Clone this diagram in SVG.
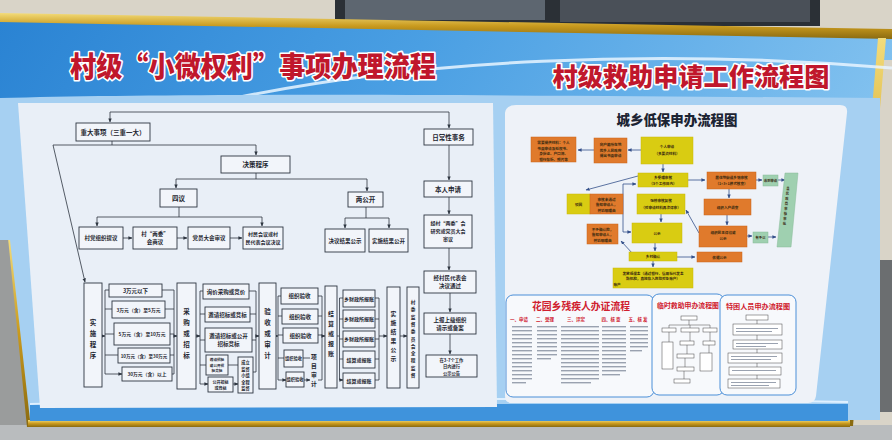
<svg xmlns="http://www.w3.org/2000/svg" width="892" height="440" viewBox="0 0 892 440">
<defs>
<linearGradient id="sky" x1="0" y1="0" x2="1" y2="0.3">
<stop offset="0" stop-color="#2a83d3"/><stop offset="0.45" stop-color="#4a9fe3"/><stop offset="1" stop-color="#86c4f0"/>
</linearGradient>
<linearGradient id="gold" x1="0" y1="0" x2="0" y2="1">
<stop offset="0" stop-color="#f3dc7a"/><stop offset="0.5" stop-color="#c99a1e"/><stop offset="1" stop-color="#8a6a10"/>
</linearGradient>
<marker id="a" markerWidth="4" markerHeight="4" refX="3.6" refY="2" orient="auto" markerUnits="userSpaceOnUse"><path d="M0,0.3 L4,2 L0,3.7z" fill="#2d3540"/></marker>
<marker id="b" markerWidth="4" markerHeight="4" refX="3.6" refY="2" orient="auto" markerUnits="userSpaceOnUse"><path d="M0,0.3 L4,2 L0,3.7z" fill="#34508a"/></marker>
<style>
.bx{fill:#f2f5fa;stroke:#2d3540;stroke-width:0.9}
.t{font-family:"Noto Sans CJK SC","Noto Sans",sans-serif;font-size:5.5px;font-weight:bold;fill:#1e2630;text-anchor:middle}
.tl{font-family:"Noto Sans CJK SC","Noto Sans",sans-serif;font-size:6.5px;font-weight:bold;fill:#1e2630;text-anchor:middle}
.tv{font-family:"Noto Sans CJK SC","Noto Sans",sans-serif;font-size:6.5px;font-weight:bold;fill:#1e2630;text-anchor:middle}
.c{stroke:#2d3540;stroke-width:0.8;fill:none}
.ca{stroke:#2d3540;stroke-width:0.8;fill:none;marker-end:url(#a)}
.cb{stroke:#34508a;stroke-width:0.8;fill:none;marker-end:url(#b)}
.ttl{font-family:"Noto Sans CJK SC","Noto Sans",sans-serif;font-weight:900;fill:#c0172c;stroke:#ffffff;stroke-width:3.2;paint-order:stroke;stroke-linejoin:round;text-anchor:middle}
.y{fill:#d9cc12;stroke:#c9b80a;stroke-width:0.5}
.o{fill:#e07a2c;stroke:#c96518;stroke-width:0.5}
.g{fill:#9fd0b0;stroke:#88bb98;stroke-width:0.5}
.ts{font-family:"Noto Sans CJK SC","Noto Sans",sans-serif;font-size:3.6px;font-weight:bold;fill:#3a2a10;text-anchor:middle}
.rt{font-family:"Noto Sans CJK SC","Noto Sans",sans-serif;font-weight:bold;fill:#d0202e;text-anchor:middle}
.pn{fill:#f7f9fc;stroke:#4a8fd8;stroke-width:1}
.ln{fill:#9aa2b0}
</style>
</defs>

<!-- surroundings -->
<rect x="0" y="0" width="892" height="440" fill="#d9d4c8"/>
<rect x="335" y="0" width="485" height="26" fill="#2b3036"/>
<rect x="345" y="0" width="200" height="20" fill="#5d6670"/>
<rect x="560" y="0" width="250" height="22" fill="#4a5058"/>
<polygon points="880,260 892,260 892,412 868,412" fill="#6b6e70"/>
<polygon points="0,240 14,240 30,425 0,425" fill="#9a9c9c"/>
<rect x="0" y="425" width="892" height="15" fill="#b9bcbe"/>

<!-- board -->
<polygon points="0,21 892,38 892,60 880,60 848,425 30,425 12,240 0,240" fill="url(#sky)"/>
<polygon points="0,13 892,29 892,39 0,22" fill="url(#gold)"/>
<polygon points="878,38 886,38 853,426 845,426" fill="url(#gold)"/>
<polygon points="8,238 14,238 33,427 27,427" fill="url(#gold)"/>
<rect x="28" y="420" width="822" height="7" fill="url(#gold)"/>
<path d="M235,98 C420,60 650,48 892,68" stroke="#e8f4ff" stroke-width="3" fill="none" opacity="0.85"/>
<path d="M0,98 C200,92 600,96 880,98 L880,420 L30,420 L10,240 L0,240z" fill="#a6d0f2"/>
<rect x="30" y="404" width="818" height="17" fill="#3f93dc"/>
<path d="M30,404 C300,398 600,398 848,402" stroke="#dff0ff" stroke-width="2" fill="none"/>

<!-- titles -->
<text class="ttl" x="253" y="77" font-size="28" textLength="366" lengthAdjust="spacingAndGlyphs">村级“小微权利”事项办理流程</text>
<text class="ttl" x="691" y="86" font-size="25" textLength="277" lengthAdjust="spacingAndGlyphs">村级救助申请工作流程图</text>

<!-- left panel -->
<polygon points="18,103 493,103 497,407 40,408" fill="#e9eff7"/>

<g id="connectors">
<path class="c" d="M110,112 H449"/>
<path class="ca" d="M110,112 V122"/>
<path class="ca" d="M449,112 V128"/>
<path class="c" d="M112,141 V145 M53,145 H256"/>
<path class="ca" d="M256,145 V155"/>
<path class="ca" d="M53,145 L85,282"/>
<path class="c" d="M256,173 V179 M176,179 H367"/>
<path class="ca" d="M176,179 V188"/>
<path class="ca" d="M367,179 V191"/>
<path class="c" d="M179,207 V217 M97,217 H262"/>
<path class="ca" d="M97,217 V226"/>
<path class="ca" d="M262,217 V226"/>
<path class="ca" d="M123,238 H132"/>
<path class="ca" d="M177,238 H187"/>
<path class="ca" d="M230,238 H242"/>
<path class="c" d="M366,207 V218 M345,218 H389"/>
<path class="ca" d="M345,218 V228"/>
<path class="ca" d="M389,218 V228"/>
<path class="ca" d="M449,145 V180"/>
<path class="ca" d="M449,197 V214"/>
<path class="ca" d="M449,248 V270"/>
<path class="ca" d="M450,293 V312"/>
<path class="ca" d="M450,334 V354"/>
<!-- bottom row brackets -->
<path class="ca" d="M102,336 H105"/>
<path class="c" d="M105,290 V374"/>
<path class="ca" d="M105,290 H109 M105,309 H112 M105,334 H114 M105,355 H118 M105,374 H122"/>
<path class="c" d="M162,290 H174 M165,309 H174 M170,334 H174 M170,355 H174 M172,374 H174 M174,290 V374"/>
<path class="ca" d="M174,336 H177"/>
<path class="ca" d="M196,336 H200"/>
<path class="c" d="M200,291 V384"/>
<path class="ca" d="M200,291 H203 M200,314 H205 M200,340 H205 M200,365 H206 M200,384 H208"/>
<path class="ca" d="M228,365 H238 M233,384 H238"/>
<path class="c" d="M249,291 H256 M250,314 H256 M252,340 H256 M253,372 H256 M256,291 V372"/>
<path class="ca" d="M256,336 H259"/>
<path class="ca" d="M276,336 H278"/>
<path class="c" d="M278,296 V380"/>
<path class="ca" d="M278,296 H281 M278,316 H282 M278,335 H283 M278,358 H284 M278,380 H286"/>
<path class="ca" d="M303,358 H310 M304,380 H310"/>
<path class="c" d="M318,296 H322 M318,316 H322 M318,335 H322 M322,296 V380 M318,380 H322"/>
<path class="ca" d="M322,336 H325"/>
<path class="c" d="M337,336 H339.5 M339.5,298 V380"/>
<path class="ca" d="M339.5,298 H343 M339.5,319 H343 M339.5,339 H343 M339.5,359 H343 M339.5,380 H343"/>
<path class="c" d="M375,298 H379 M375,319 H379 M375,339 H379 M375,359 H379 M375,380 H379 M379,298 V380"/>
<path class="ca" d="M379,336 H387"/>
<path class="ca" d="M400,336 H407"/>
</g>

<g id="n-zhongda"><rect class="bx" x="76" y="123" width="74" height="18"/><text class="tl" x="113" y="134.5">重大事项（三重一大）</text></g>
<g id="n-richang"><rect class="bx" x="424" y="129" width="49" height="16"/><text class="tl" x="448.5" y="139.5">日常性事务</text></g>
<g id="n-juece"><rect class="bx" x="221" y="156" width="69" height="17"/><text class="tl" x="255.5" y="167">决策程序</text></g>
<g id="n-siyi"><rect class="bx" x="160" y="189" width="37" height="18"/><text class="tl" x="178.5" y="200.5">四议</text></g>
<g id="n-lianggongkai"><rect class="bx" x="348" y="192" width="35" height="15"/><text class="tl" x="365.5" y="202">两公开</text></g>
<g id="n-tiyi"><rect class="bx" x="79" y="227" width="44" height="22"/><text class="t" x="101" y="240">村党组织提议</text></g>
<g id="n-shangyi"><rect class="bx" x="133" y="227" width="44" height="22"/><text class="t" x="155" y="236">村“两委”</text><text class="t" x="155" y="244">会商议</text></g>
<g id="n-shenyi"><rect class="bx" x="188" y="227" width="42" height="22"/><text class="t" x="209" y="240">党员大会审议</text></g>
<g id="n-jueyi"><rect class="bx" x="243" y="227" width="40" height="22"/><text class="t" x="263" y="236" style="font-size:5px">村民会议或村</text><text class="t" x="263" y="244" style="font-size:5px">民代表会议决议</text></g>
<g id="n-jieguo"><rect class="bx" x="325" y="229" width="40" height="23"/><text class="t" x="345" y="242.5">决议结果公示</text></g>
<g id="n-shishi"><rect class="bx" x="369" y="229" width="39" height="23"/><text class="t" x="388.5" y="242.5">实施结果公开</text></g>
<g id="n-benren"><rect class="bx" x="424" y="181" width="48" height="16"/><text class="tl" x="448" y="191.5">本人申请</text></g>
<g id="n-liangwei"><rect class="bx" x="424" y="215" width="48" height="33"/><text class="t" x="448" y="225" style="font-size:5px">经村“两委”会</text><text class="t" x="448" y="233" style="font-size:5px">研究或党员大会</text><text class="t" x="448" y="241" style="font-size:5px">审议</text></g>
<g id="n-cmdb"><rect class="bx" x="424" y="271" width="52" height="22"/><text class="t" x="450" y="280">经村民代表会</text><text class="t" x="450" y="288">决议通过</text></g>
<g id="n-shangbao"><rect class="bx" x="424" y="313" width="52" height="21"/><text class="t" x="450" y="322">上报上级组织</text><text class="t" x="450" y="330">请示或备案</text></g>
<g id="n-gongshi"><rect class="bx" x="426" y="355" width="51" height="22"/><text class="t" x="451.5" y="361.5" style="font-size:4.3px">在3-7个工作</text><text class="t" x="451.5" y="368" style="font-size:4.3px">日内进行</text><text class="t" x="451.5" y="374.5" style="font-size:4.3px">公示公告</text></g>

<g id="n-shishichengxu"><rect class="bx" x="84" y="283" width="18" height="104"/><text class="tv"><tspan x="93" y="325">实</tspan><tspan x="93" y="336">施</tspan><tspan x="93" y="347">程</tspan><tspan x="93" y="358">序</tspan></text></g>
<g id="n-amt1"><rect class="bx" x="109" y="284" width="53" height="13"/><text class="t" x="135.5" y="292.5">3万元以下</text></g>
<g id="n-amt2"><rect class="bx" x="112" y="301" width="53" height="17"/><text class="t" x="138.5" y="311.5" style="font-size:4.8px">3万元（含）至5万元</text></g>
<g id="n-amt3"><rect class="bx" x="114" y="323" width="56" height="22"/><text class="t" x="142" y="336" style="font-size:4.8px">5万元（含）至10万元</text></g>
<g id="n-amt4"><rect class="bx" x="118" y="348" width="52" height="15"/><text class="t" x="144" y="357.5" style="font-size:4.5px">10万元（含）至30万元</text></g>
<g id="n-amt5"><rect class="bx" x="122" y="367" width="50" height="14"/><text class="t" x="147" y="376" style="font-size:4.8px">30万元（含）以上</text></g>

<g id="n-caigou"><rect class="bx" x="177" y="283" width="19" height="106"/><text class="tv"><tspan x="186.5" y="314">采</tspan><tspan x="186.5" y="325">购</tspan><tspan x="186.5" y="336">或</tspan><tspan x="186.5" y="347">招</tspan><tspan x="186.5" y="358">标</tspan></text></g>
<g id="n-p1"><rect class="bx" x="203" y="284" width="46" height="15"/><text class="t" x="226" y="293.5">询价采购或竞价</text></g>
<g id="n-p2"><rect class="bx" x="205" y="307" width="45" height="15"/><text class="t" x="227.5" y="316.5">邀请招标或竞标</text></g>
<g id="n-p3"><rect class="bx" x="205" y="328" width="47" height="24"/><text class="t" x="228.5" y="338">邀请招标或公开</text><text class="t" x="228.5" y="346">招标竞标</text></g>
<g id="n-p4"><rect class="bx" x="206" y="355" width="22" height="20"/><text class="t" style="font-size:3.6px" x="217" y="361">邀请招标</text><text class="t" style="font-size:3.6px" x="217" y="366.5">或公开招</text><text class="t" style="font-size:3.6px" x="217" y="372">标竞标</text></g>
<g id="n-p5"><rect class="bx" x="208" y="377" width="25" height="15"/><text class="t" style="font-size:4px" x="220.5" y="383.5">公开招标</text><text class="t" style="font-size:4px" x="220.5" y="389.5">或竞标</text></g>
<g id="n-p6"><rect class="bx" x="238" y="357" width="15" height="36"/><text class="t" style="font-size:4.2px" x="245.5" y="364">成立</text><text class="t" style="font-size:4.2px" x="245.5" y="370.5">监督</text><text class="t" style="font-size:4.2px" x="245.5" y="377">小组</text><text class="t" style="font-size:4.2px" x="245.5" y="383.5">全程</text><text class="t" style="font-size:4.2px" x="245.5" y="390">监督</text></g>

<g id="n-yanshou"><rect class="bx" x="259" y="283" width="17" height="106"/><text class="tv"><tspan x="267.5" y="314">验</tspan><tspan x="267.5" y="325">收</tspan><tspan x="267.5" y="336">或</tspan><tspan x="267.5" y="347">审</tspan><tspan x="267.5" y="358">计</tspan></text></g>
<g id="n-a1"><rect class="bx" x="281" y="288" width="37" height="16"/><text class="t" x="299.5" y="298">组织验收</text></g>
<g id="n-a2"><rect class="bx" x="282" y="309" width="36" height="15"/><text class="t" x="300" y="318.5">组织验收</text></g>
<g id="n-a3"><rect class="bx" x="283" y="328" width="35" height="15"/><text class="t" x="300.5" y="337.5">组织验收</text></g>
<g id="n-a4"><rect class="bx" x="284" y="350" width="19" height="17"/><text class="t" x="293.5" y="360" style="font-size:4.2px">组织验收</text></g>
<g id="n-a5"><rect class="bx" x="286" y="372" width="18" height="15"/><text class="t" x="295" y="381" style="font-size:4.2px">组织验收</text></g>
<g id="n-xiangmu"><text class="tv" style="font-size:5.8px"><tspan x="314" y="359">项</tspan><tspan x="314" y="368">目</tspan><tspan x="314" y="377">审</tspan><tspan x="314" y="386">计</tspan></text></g>

<g id="n-jiesuan"><rect class="bx" x="325" y="286" width="12" height="102"/><text class="tv" style="font-size:6px"><tspan x="331" y="316">结</tspan><tspan x="331" y="326">算</tspan><tspan x="331" y="336">或</tspan><tspan x="331" y="346">报</tspan><tspan x="331" y="356">账</tspan></text></g>
<g id="n-r1"><rect class="bx" x="343" y="290" width="32" height="17"/><text class="t" x="359" y="300.5" style="font-size:5px">乡财政所报账</text></g>
<g id="n-r2"><rect class="bx" x="343" y="310" width="32" height="18"/><text class="t" x="359" y="321" style="font-size:5px">乡财政所报账</text></g>
<g id="n-r3"><rect class="bx" x="343" y="331" width="32" height="16"/><text class="t" x="359" y="341" style="font-size:5px">乡财政所报账</text></g>
<g id="n-r4"><rect class="bx" x="343" y="351" width="32" height="17"/><text class="t" x="359" y="361.5" style="font-size:5px">结算或报账</text></g>
<g id="n-r5"><rect class="bx" x="343" y="373" width="32" height="15"/><text class="t" x="359" y="382.5" style="font-size:5px">结算或报账</text></g>

<g id="n-ssjg"><rect class="bx" x="387" y="287" width="13" height="101"/><text class="tv" style="font-size:5.8px"><tspan x="393.5" y="316">实</tspan><tspan x="393.5" y="325">施</tspan><tspan x="393.5" y="334">结</tspan><tspan x="393.5" y="343">果</tspan><tspan x="393.5" y="352">公</tspan><tspan x="393.5" y="361">示</tspan></text></g>
<g id="n-jiandu"><rect class="bx" x="407" y="287" width="12" height="101"/><text class="tv" style="font-size:4.7px"><tspan x="413" y="304">村</tspan><tspan x="413" y="311.3">委</tspan><tspan x="413" y="318.6">监</tspan><tspan x="413" y="325.9">督</tspan><tspan x="413" y="333.2">委</tspan><tspan x="413" y="340.5">员</tspan><tspan x="413" y="347.8">会</tspan><tspan x="413" y="355.1">全</tspan><tspan x="413" y="362.4">程</tspan><tspan x="413" y="369.7">监</tspan><tspan x="413" y="377">督</tspan></text></g>

<!-- right panel -->
<path d="M516,105 H840 Q848,105 847,113 L816,396 Q815,403 808,403 H512 Q505,403 505,396 V113 Q506,105 516,105z" fill="#eef2f8"/>
<text x="677" y="125" font-family="'Noto Sans CJK SC',sans-serif" font-size="13.5" font-weight="900" fill="#1c2433" text-anchor="middle" textLength="121" lengthAdjust="spacingAndGlyphs">城乡低保申办流程图</text>

<g id="lowbao-connectors">
<path class="cb" d="M641,150 H628"/>
<path class="cb" d="M594,150 H578"/>
<path class="cb" d="M663,164 V172"/>
<path class="cb" d="M638,176 L586,190"/>
<path class="cb" d="M688,180 H705"/>
<path class="cb" d="M756,180 H762"/>
<path class="cb" d="M778,180 H785"/>
<path class="cb" d="M729,189 V198"/>
<path class="cb" d="M727,215 V225"/>
<path class="cb" d="M699,233 L686,210"/>
<path class="cb" d="M747,236 H752"/>
<path class="cb" d="M768,237 H776"/>
<path class="cb" d="M661,214 V222"/>
<path class="cb" d="M655,243 V251"/>
<path class="cb" d="M677,257 H695"/>
<path class="cb" d="M633,254 L621,241"/>
<path class="cb" d="M653,261 V267"/>
<path class="cb" d="M623,232 V184 H636"/>
<path class="cb" d="M623,232 H631"/>
</g>
<g id="l-geren"><rect class="y" x="641" y="137" width="52" height="27"/><text class="ts" x="667" y="148">个人申请</text><text class="ts" x="667" y="155">（多要资材料）</text></g>
<g id="l-huji"><rect class="o" x="594" y="138" width="33" height="25"/><text class="ts" x="610.5" y="146">向户籍所在地</text><text class="ts" x="610.5" y="151.5">的乡人民政府</text><text class="ts" x="610.5" y="157">提出书面申请</text></g>
<g id="l-cailiao"><rect class="o" x="531" y="137" width="45" height="25"/><text class="ts" x="553.5" y="144">需要提供材料：个人</text><text class="ts" x="553.5" y="149.5">书面申请及授权书、</text><text class="ts" x="553.5" y="155">身份证、户口簿、</text><text class="ts" x="553.5" y="160.5">银行存折、照片等</text></g>
<g id="l-shouli"><rect class="y" x="638" y="173" width="50" height="14"/><text class="ts" x="663" y="179">乡受理审核</text><text class="ts" x="663" y="185">（5个工作日内）</text></g>
<g id="l-bohui"><rect class="y" x="567" y="194" width="23" height="20"/><text class="ts" x="578.5" y="205.5">驳回</text></g>
<g id="l-weitongguo"><rect class="o" x="590" y="194" width="33" height="20"/><text class="ts" x="606.5" y="200.5">审核未通过</text><text class="ts" x="606.5" y="206">告知申请人，</text><text class="ts" x="606.5" y="211.5">并说明理由</text></g>
<g id="l-zhangbang"><rect class="y" x="637" y="194" width="48" height="20"/><text class="ts" x="661" y="202">张榜审核复核</text><text class="ts" x="661" y="209">（对申请材料再次评审）</text></g>
<g id="l-gongshi"><rect class="y" x="632" y="223" width="50" height="20"/><text class="ts" x="657" y="234.5">公示</text></g>
<g id="l-buyu"><rect class="o" x="587" y="224" width="31" height="20"/><text class="ts" x="602.5" y="230.5">不予确认的，</text><text class="ts" x="602.5" y="236">告知申请人，</text><text class="ts" x="602.5" y="241.5">并说明理由</text></g>
<g id="l-queren"><rect class="y" x="629" y="252" width="48" height="9"/><text class="ts" x="653" y="258">乡村确认</text></g>
<g id="l-yiju"><rect class="o" x="697" y="252" width="45" height="10"/><text class="ts" x="719.5" y="258.5">依据公示</text></g>
<g id="l-fafang"><rect class="y" x="613" y="268" width="80" height="20"/><text class="ts" x="653" y="274.5">发放低保金（通过银行、信用社代发金</text><text class="ts" x="653" y="280">融机构，直接存入救助对象账户）</text><text class="ts" x="617" y="285.5" text-anchor="start">账户</text></g>
<g id="l-juzhu"><rect class="o" x="707" y="172" width="49" height="17"/><text class="ts" x="731.5" y="179">居住地街道乡镇审核</text><text class="ts" x="731.5" y="185">（1+3+1模式核查）</text></g>
<g id="l-shoudao"><rect class="g" x="763" y="175" width="15" height="11"/><text class="ts" x="770.5" y="182" style="font-size:3.3px">收到申请</text></g>
<g id="l-ruhu"><rect class="o" x="704" y="199" width="47" height="16"/><text class="ts" x="727.5" y="208.5">组织入户调查</text></g>
<g id="l-minzhu"><rect class="o" x="699" y="226" width="48" height="21"/><text class="ts" x="723" y="234">组织民主评议或</text><text class="ts" x="723" y="240">公示</text></g>
<g id="l-youyu"><rect class="g" x="753" y="232" width="15" height="11"/><text class="ts" x="760.5" y="239" style="font-size:3.3px">有予以</text></g>
<g id="l-xian"><polygon class="g" points="785,173 798,173 791,247 777,247"/><text class="ts" style="font-size:3.3px"><tspan x="788" y="190">县</tspan><tspan x="787.5" y="195">民</tspan><tspan x="787" y="200">政</tspan><tspan x="786.5" y="205">局</tspan><tspan x="786" y="210">审</tspan><tspan x="785.5" y="215">核</tspan><tspan x="785" y="220">审</tspan><tspan x="784.5" y="225">批</tspan></text></g>

<!-- bottom panels -->
<g id="p-canji">
<rect class="pn" x="506" y="295" width="148" height="102" rx="7"/>
<text class="rt" x="581" y="310" font-size="10.5" textLength="98" lengthAdjust="spacingAndGlyphs">花园乡残疾人办证流程</text>
<text class="rt" font-size="4.5"><tspan x="519" y="321">一、申请</tspan><tspan x="545" y="321">二、受理</tspan><tspan x="576" y="321">三、评定</tspan><tspan x="611" y="321">四、核 查</tspan><tspan x="638" y="321">五、核 发</tspan></text>
<g class="ln">
<rect x="512" y="326" width="20" height="1.4"/><rect x="512" y="330" width="20" height="1.4"/><rect x="512" y="334" width="20" height="1.4"/><rect x="512" y="338" width="20" height="1.4"/><rect x="512" y="342" width="20" height="1.4"/><rect x="512" y="346" width="20" height="1.4"/><rect x="512" y="350" width="20" height="1.4"/><rect x="512" y="354" width="20" height="1.4"/><rect x="512" y="358" width="20" height="1.4"/><rect x="512" y="362" width="20" height="1.4"/><rect x="512" y="366" width="20" height="1.4"/><rect x="512" y="370" width="20" height="1.4"/><rect x="512" y="374" width="20" height="1.4"/><rect x="512" y="378" width="20" height="1.4"/><rect x="512" y="382" width="14" height="1.4"/>
<rect x="537" y="326" width="20" height="1.4"/><rect x="537" y="330" width="20" height="1.4"/><rect x="537" y="334" width="20" height="1.4"/><rect x="537" y="338" width="20" height="1.4"/><rect x="537" y="342" width="20" height="1.4"/><rect x="537" y="346" width="20" height="1.4"/><rect x="537" y="350" width="20" height="1.4"/><rect x="537" y="354" width="20" height="1.4"/><rect x="537" y="358" width="14" height="1.4"/>
<rect x="561" y="326" width="38" height="1.4"/><rect x="561" y="330" width="38" height="1.4"/><rect x="561" y="334" width="38" height="1.4"/><rect x="561" y="338" width="38" height="1.4"/><rect x="561" y="342" width="38" height="1.4"/><rect x="561" y="346" width="38" height="1.4"/><rect x="561" y="350" width="38" height="1.4"/><rect x="561" y="354" width="38" height="1.4"/><rect x="561" y="358" width="38" height="1.4"/><rect x="561" y="362" width="38" height="1.4"/><rect x="561" y="366" width="38" height="1.4"/><rect x="561" y="370" width="38" height="1.4"/><rect x="561" y="374" width="38" height="1.4"/><rect x="561" y="378" width="38" height="1.4"/><rect x="561" y="382" width="30" height="1.4"/>
<rect x="602" y="326" width="24" height="1.4"/><rect x="602" y="330" width="24" height="1.4"/><rect x="602" y="334" width="24" height="1.4"/><rect x="602" y="338" width="24" height="1.4"/><rect x="602" y="342" width="24" height="1.4"/><rect x="602" y="346" width="24" height="1.4"/><rect x="602" y="350" width="24" height="1.4"/><rect x="602" y="354" width="24" height="1.4"/><rect x="602" y="358" width="24" height="1.4"/><rect x="602" y="362" width="24" height="1.4"/><rect x="602" y="366" width="24" height="1.4"/><rect x="602" y="370" width="24" height="1.4"/><rect x="602" y="374" width="18" height="1.4"/>
<rect x="630" y="326" width="18" height="1.4"/><rect x="630" y="330" width="18" height="1.4"/><rect x="630" y="334" width="18" height="1.4"/><rect x="630" y="338" width="18" height="1.4"/><rect x="630" y="342" width="18" height="1.4"/><rect x="630" y="346" width="18" height="1.4"/><rect x="630" y="350" width="12" height="1.4"/>
</g>
</g>

<g id="p-linshi">
<rect class="pn" x="652" y="294" width="72" height="101" rx="7"/>
<text class="rt" x="688" y="308" font-size="7" textLength="62" lengthAdjust="spacingAndGlyphs">临时救助申办流程图</text>
<g fill="#fff" stroke="#444" stroke-width="0.5">
<rect x="681" y="316" width="16" height="4"/>
<rect x="662" y="328" width="14" height="4"/><rect x="681" y="328" width="18" height="4"/><rect x="703" y="328" width="14" height="4"/>
<rect x="662" y="342" width="11" height="27"/><rect x="680" y="341" width="14" height="4"/><rect x="703" y="341" width="12" height="4"/>
<rect x="677" y="354" width="17" height="4"/><rect x="700" y="353" width="12" height="18"/>
<rect x="677" y="367" width="17" height="4"/><rect x="674" y="379" width="16" height="4"/>
</g>
<path d="M689,320 V325 M669,325 H710 M669,325 V328 M690,325 V328 M710,325 V328 M669,332 V342 M690,332 V341 M710,332 V341 M687,345 V354 M709,345 V353 M685,358 V367 M684,371 V379" stroke="#444" stroke-width="0.5" fill="none"/>
</g>

<g id="p-tekun">
<rect class="pn" x="720" y="295" width="76" height="100" rx="7"/>
<text class="rt" x="758" y="309" font-size="7" textLength="64" lengthAdjust="spacingAndGlyphs">特困人员申办流程图</text>
<g fill="#fff" stroke="#444" stroke-width="0.5">
<rect x="746" y="315" width="22" height="5"/>
<rect x="733" y="324" width="49" height="11"/>
<rect x="733" y="340" width="49" height="9"/>
<rect x="728" y="353" width="54" height="10"/>
<rect x="729" y="367" width="52" height="8"/>
<rect x="728" y="379" width="52" height="9"/>
</g>
<path d="M757,320 V324 M757,335 V340 M757,349 V353 M757,363 V367 M757,375 V379" stroke="#444" stroke-width="0.5"/>
<g class="ln">
<rect x="736" y="328" width="42" height="1"/><rect x="736" y="331" width="36" height="1"/><rect x="736" y="343" width="42" height="1"/><rect x="736" y="346" width="30" height="1"/><rect x="731" y="356" width="46" height="1"/><rect x="731" y="359" width="40" height="1"/><rect x="732" y="370" width="44" height="1"/><rect x="731" y="382" width="45" height="1"/><rect x="731" y="385" width="38" height="1"/>
</g>
</g>
</svg>
